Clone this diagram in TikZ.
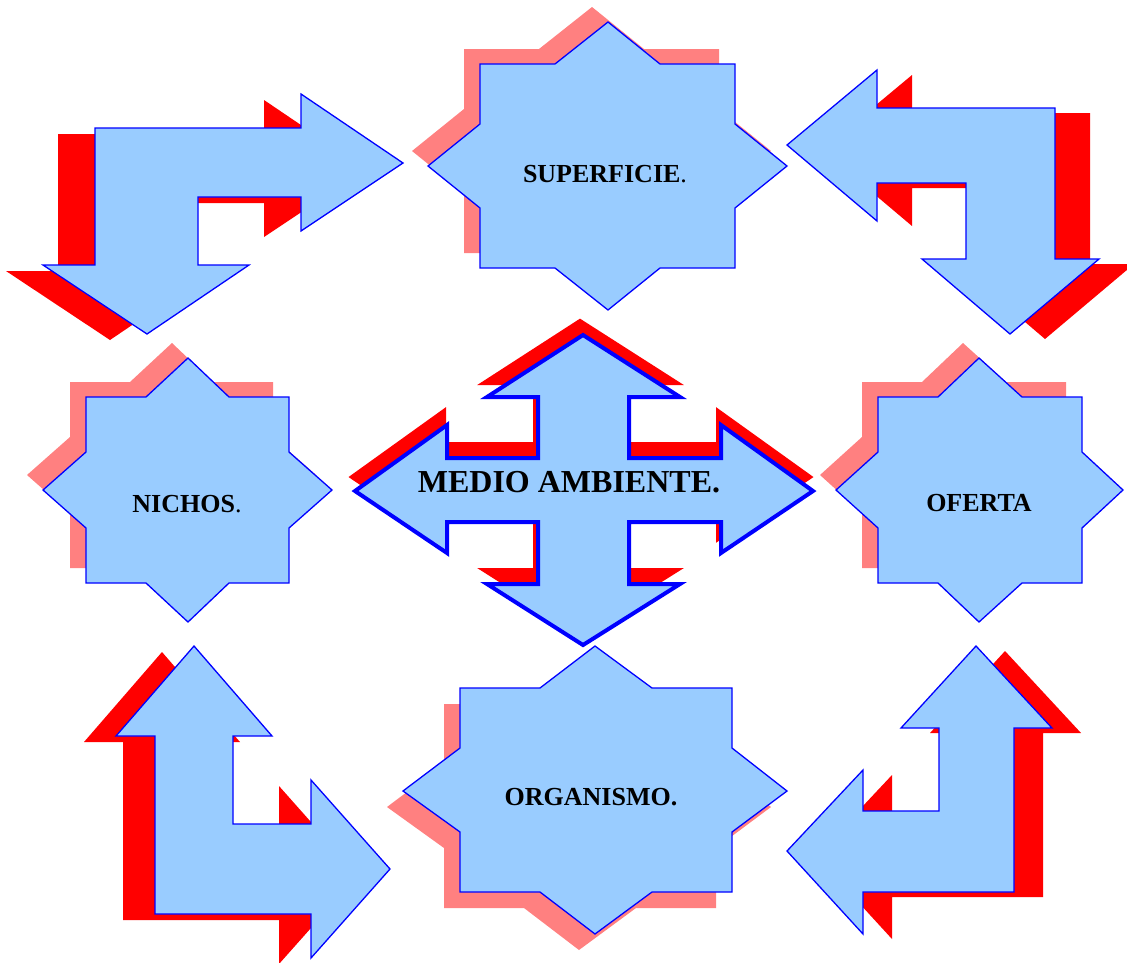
\documentclass[tikz,border=0pt]{standalone}
\usepackage{fontspec}
\setmainfont{Liberation Serif}
\definecolor{fillblue}{HTML}{99CCFF}
\definecolor{edgeblue}{HTML}{0000FF}
\definecolor{shred}{HTML}{FF0000}
\definecolor{shpink}{HTML}{FF8080}
\begin{document}
\begin{tikzpicture}[x=1pt,y=-1pt,
  blueshape/.style={fill=fillblue,draw=edgeblue,line width=1.3pt,line join=miter},
  bigshape/.style={fill=fillblue,draw=edgeblue,line width=4pt,line join=miter},
  redshadow/.style={fill=shred},
  pinkshadow/.style={fill=shpink},
  txt/.style={font=\bfseries\fontsize{26}{30}\selectfont,inner sep=0pt,anchor=base},
  bigtxt/.style={font=\bfseries\fontsize{32}{36}\selectfont,inner sep=0pt,anchor=base},
  pathTL/.style={insert path={(95,128) -- (301,128) -- (301,94) -- (403,163) -- (301,231) -- (301,197) -- (198,197) -- (198,265) -- (249,265) -- (147,334) -- (43,265) -- (95,265) -- cycle}},
  pathTR/.style={insert path={(787,145) -- (877,70) -- (877,108) -- (1055,108) -- (1055,259) -- (1099,259) -- (1010,334) -- (922,259) -- (966,259) -- (966,183) -- (877,183) -- (877,221) -- cycle}},
  pathBL/.style={insert path={(194,646) -- (272,736) -- (233,736) -- (233,824) -- (311,824) -- (311,780) -- (390,869) -- (311,958) -- (311,914) -- (155,914) -- (155,736) -- (116,736) -- cycle}},
  pathBR/.style={insert path={(976,646) -- (1052,728) -- (1014,728) -- (1014,892) -- (863,892) -- (863,934) -- (787,851) -- (863,770) -- (863,811) -- (939,811) -- (939,728) -- (901,728) -- cycle}},
  pathSup/.style={insert path={(608,22) -- (660,64) -- (735,64) -- (735,124) -- (787,166) -- (735,208) -- (735,268) -- (660,268) -- (608,310) -- (555,268) -- (480,268) -- (480,208) -- (428,166) -- (480,124) -- (480,64) -- (555,64) -- cycle}},
  pathNic/.style={insert path={(188,358) -- (229,397) -- (289,397) -- (289,452) -- (332,490) -- (289,528) -- (289,583) -- (229,583) -- (188,622) -- (146,583) -- (86,583) -- (86,528) -- (43,490) -- (86,452) -- (86,397) -- (146,397) -- cycle}},
  pathOfe/.style={insert path={(979,358) -- (1022,397) -- (1082,397) -- (1082,452) -- (1123,490) -- (1082,528) -- (1082,583) -- (1022,583) -- (979,622) -- (938,583) -- (878,583) -- (878,528) -- (836,490) -- (878,452) -- (878,397) -- (938,397) -- cycle}},
  pathOrg/.style={insert path={(595,646) -- (652,688) -- (732,688) -- (732,748) -- (787,791) -- (732,832) -- (732,892) -- (652,892) -- (595,934) -- (540,892) -- (460,892) -- (460,832) -- (403,791) -- (460,748) -- (460,688) -- (540,688) -- cycle}},
  pathMid/.style={insert path={(583,335) -- (680,397) -- (629,397) -- (629,458) -- (721,458) -- (721,425) -- (813,491) -- (721,553) -- (721,522) -- (629,522) -- (629,584) -- (680,584) -- (583,645) -- (487,584) -- (538,584) -- (538,522) -- (447,522) -- (447,553) -- (355,491) -- (447,425) -- (447,458) -- (538,458) -- (538,397) -- (487,397) -- cycle}}
]
\useasboundingbox (0,0) rectangle (1127,962);
% shadows
\path[redshadow,shift={(-37,6)},pathTL];
\path[redshadow,shift={(35,5)},pathTR];
\path[redshadow,shift={(-32,6)},pathBL];
\path[redshadow,shift={(29,5)},pathBR];
\path[pinkshadow,shift={(-16,-15)},pathSup];
\path[pinkshadow,shift={(-16,-15)},pathNic];
\path[pinkshadow,shift={(-16,-15)},pathOfe];
\path[pinkshadow,shift={(-16,16)},pathOrg];
\path[redshadow,draw=shred,line width=4pt,line join=miter,shift={(-3,-14)},pathMid];
% shapes
\path[blueshape,pathTL];
\path[blueshape,pathTR];
\path[blueshape,pathBL];
\path[blueshape,pathBR];
\path[blueshape,pathSup];
\path[blueshape,pathNic];
\path[blueshape,pathOfe];
\path[blueshape,pathOrg];
\path[bigshape,pathMid];
% labels
\node[txt] (superficie) at (605,182) {SUPERFICIE\textmd{.}};
\node[txt] (nichos) at (187,512) {NICHOS\textmd{.}};
\node[txt] (oferta) at (979,511) {OFERTA};
\node[txt] (organismo) at (591,805) {ORGANISMO.};
\node[bigtxt] (medio) at (569,492) {MEDIO AMBIENTE.};
\end{tikzpicture}
\end{document}
